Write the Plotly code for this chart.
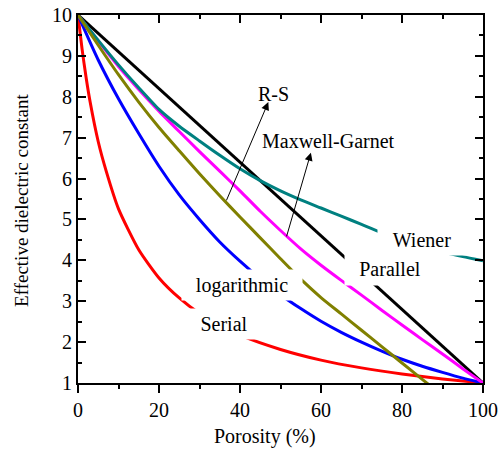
import plotly.graph_objects as go

# ---------------- data ----------------
porosity_grid = [0, 5, 10, 15, 20, 25, 30, 35, 40, 45, 50, 55, 60, 65, 70, 75, 80, 85, 90, 95, 100]

parallel_x = [0, 100]
parallel_y = [10, 1]

serial_x = [0, 1, 2, 3, 5, 7, 10, 15, 20, 25, 30, 35, 40, 50, 60, 70, 80, 90, 100]
serial_y = [10, 9.17, 8.47, 7.87, 6.90, 6.17, 5.26, 4.26, 3.57, 3.08, 2.70, 2.41, 2.17,
            1.82, 1.56, 1.37, 1.22, 1.10, 1.0]

log_y = [10, 8.9, 7.95, 7.1, 6.3, 5.6, 5.0, 4.45, 3.98, 3.55, 3.16, 2.82, 2.51, 2.24,
         2.0, 1.78, 1.58, 1.41, 1.26, 1.12, 1.0]

mg_y = [10, 9.36, 8.74, 8.18, 7.65, 7.15, 6.66, 6.18, 5.70, 5.20, 4.73, 4.28, 3.88, 3.51,
        3.15, 2.78, 2.42, 2.06, 1.71, 1.35, 1.0]

wiener_y = [10, 9.38, 8.78, 8.22, 7.69, 7.28, 6.92, 6.57, 6.24, 5.95, 5.70, 5.48, 5.28,
            5.08, 4.88, 4.68, 4.52, 4.36, 4.21, 4.09, 3.99]

rs_x = [0, 5, 10, 15, 20, 25, 30, 35, 40, 45, 50, 55, 60, 65, 70, 75, 80, 85, 90]
rs_y = [10, 9.26, 8.54, 7.87, 7.25, 6.68, 6.12, 5.58, 5.06, 4.55, 4.04, 3.54, 3.09, 2.69,
        2.29, 1.89, 1.49, 1.09, 0.69]

x_ticks = [0, 20, 40, 60, 80, 100]
y_ticks = [1, 2, 3, 4, 5, 6, 7, 8, 9, 10]

FONT = "Liberation Serif"

fig = go.Figure()

def add_line(x, y, color, name):
    fig.add_trace(go.Scatter(x=x, y=y, mode="lines", name=name,
                             line=dict(color=color, width=3, shape="spline", smoothing=0.6),
                             hoverinfo="skip", showlegend=False))

add_line(parallel_x, parallel_y, "#000000", "Parallel")
add_line(serial_x, serial_y, "#FF0000", "Serial")
add_line(porosity_grid, log_y, "#0000FF", "logarithmic")
add_line(porosity_grid, mg_y, "#FF00FF", "Maxwell-Garnet")
add_line(porosity_grid, wiener_y, "#008080", "Wiener")
add_line(rs_x, rs_y, "#808000", "R-S")

# invisible trace to hold the top mirror axis
fig.add_trace(go.Scatter(x=[0, 100], y=[None, None], xaxis="x2", yaxis="y",
                         mode="lines", showlegend=False, hoverinfo="skip"))

axis_common = dict(showgrid=False, zeroline=False, showline=True, linecolor="black",
                   linewidth=2, tickcolor="black", tickwidth=1.5, ticklen=8,
                   automargin=False)

fig.update_layout(
    width=501, height=450,
    margin=dict(l=78, r=18, t=15, b=67, autoexpand=False),
    showlegend=False,
    paper_bgcolor="white", plot_bgcolor="white",
    font=dict(family=FONT, size=20, color="black"),
    xaxis=dict(range=[0, 100], tickmode="array", tickvals=x_ticks,
               ticks="outside", mirror=False,
               minor=dict(dtick=10, ticklen=4, ticks="outside", tickcolor="black", tickwidth=1.5),
               tickfont=dict(family=FONT, size=20), **axis_common),
    xaxis2=dict(range=[0, 100], overlaying="x", side="top", anchor="y",
                tickmode="array", tickvals=x_ticks, ticks="inside", showticklabels=False,
                minor=dict(dtick=10, ticklen=4, ticks="inside", tickcolor="black", tickwidth=1.5),
                **axis_common),
    yaxis=dict(range=[1, 10], tickmode="array", tickvals=y_ticks,
               ticks="inside", mirror="ticks",
               minor=dict(dtick=0.5, ticklen=4, ticks="inside", tickcolor="black", tickwidth=1.5),
               tickfont=dict(family=FONT, size=20), **axis_common),
)

# axis titles
fig.add_annotation(text="Porosity (%)", xref="x", yref="paper", x=46.2, y=-0.145,
                   xanchor="center", yanchor="middle", showarrow=False,
                   font=dict(family=FONT, size=20))
fig.add_annotation(text="Effective dielectric constant", xref="paper", yref="paper",
                   x=-0.138, y=0.495, textangle=-90, xanchor="center", yanchor="middle",
                   showarrow=False, font=dict(family=FONT, size=19))

# curve labels with white boxes
labels = [
    ("Wiener", 84.9, 4.49, 88, 30),
    ("Parallel", 77.0, 3.78, 90, 32),
    ("logarithmic", 40.6, 3.39, 120, 30),
    ("Serial", 36.0, 2.45, 72, 30),
]
for txt, lx, ly, w, h in labels:
    fig.add_annotation(text=txt, x=lx, y=ly, xref="x", yref="y", showarrow=False,
                       bgcolor="white", width=w, height=h, borderpad=0,
                       xanchor="center", yanchor="middle", font=dict(family=FONT, size=20))

fig.add_annotation(text="R-S", x=48.15, y=8.08, xref="x", yref="y", showarrow=False,
                   xanchor="center", yanchor="middle", font=dict(family=FONT, size=20))
fig.add_annotation(text="Maxwell-Garnet", x=61.8, y=6.92, xref="x", yref="y", showarrow=False,
                   xanchor="center", yanchor="middle", font=dict(family=FONT, size=20))

# arrows (head near label, tail on curve)
fig.add_annotation(text="", x=47.0, y=7.87, ax=36.5, ay=5.43, xref="x", yref="y",
                   axref="x", ayref="y", showarrow=True, arrowhead=2, arrowsize=1.6,
                   arrowwidth=1, arrowcolor="black")
fig.add_annotation(text="", x=57.5, y=6.63, ax=51.4, ay=4.55, xref="x", yref="y",
                   axref="x", ayref="y", showarrow=True, arrowhead=2, arrowsize=1.6,
                   arrowwidth=1, arrowcolor="black")

fig.write_html("out.html")
